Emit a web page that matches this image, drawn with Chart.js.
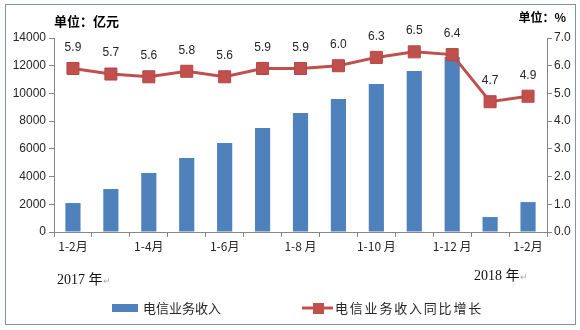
<!DOCTYPE html>
<html>
<head>
<meta charset="utf-8">
<script src="https://cdn.jsdelivr.net/npm/chart.js@4/dist/chart.umd.min.js"></script>
<style>
  html, body { margin: 0; padding: 0; background: #fff; }
  #wrap { width: 580px; height: 330px; position: relative; }
</style>
</head>
<body>
<div id="wrap"><canvas id="c" width="580" height="330"></canvas></div>
<script>
// Monthly cumulative telecom revenue (亿元) and year-on-year growth (%)
const categories = ['1-2月', '1-3月', '1-4月', '1-5月', '1-6月', '1-7月', '1-8 月',
                    '1-9月', '1-10 月', '1-11月', '1-12 月', '1月', '1-2月'];
const revenue = [2090, 3100, 4260, 5340, 6420, 7500, 8590, 9600, 10680, 11620, 12620, 1080, 2160];
const growth = [5.9, 5.7, 5.6, 5.8, 5.6, 5.9, 5.9, 6.0, 6.3, 6.5, 6.4, 4.7, 4.9];
const leftTicks = [0, 2000, 4000, 6000, 8000, 10000, 12000, 14000];
const rightTicks = [0, 1, 2, 3, 4, 5, 6, 7];
const yearLabels = ['2017 年', '2018 年'];
const seriesNames = ['电信业务收入', '电信业务收入同比增长'];
const unitLeft = '单位：亿元';
const unitRight = '单位：%';

const BLUE = '#4F81BD';
const RED = '#C0504D';
const AXIS = '#868686';
const TXT = '#262626';
const SANS = '"Liberation Sans", "Noto Sans CJK SC", sans-serif';
const CJK = '"Noto Sans CJK SC", "Liberation Sans", sans-serif';

// frame, unit titles, year notes, value labels and legend
const decor = {
  id: 'decor',
  afterDatasetsDraw(chart) {
    const ctx = chart.ctx;
    const meta = chart.getDatasetMeta(0);
    ctx.save();
    ctx.fillStyle = TXT;
    ctx.font = '12px ' + SANS;
    ctx.textAlign = 'center';
    ctx.textBaseline = 'middle';
    meta.data.forEach((pt, i) => {
      ctx.fillText(growth[i].toFixed(1), pt.x, pt.y - 21);
    });
    ctx.restore();
  },
  afterDraw(chart) {
    const ctx = chart.ctx;
    ctx.save();
    // outer frame
    ctx.strokeStyle = '#7F93A9';
    ctx.lineWidth = 1;
    ctx.strokeRect(5.5, 4.5, 570, 320);

    // unit titles
    ctx.fillStyle = '#000';
    ctx.font = 'bold 13px ' + CJK;
    ctx.textBaseline = 'middle';
    ctx.textAlign = 'left';
    ctx.fillText(unitLeft, 54, 21);
    ctx.font = 'bold 12px ' + CJK;
    ctx.textAlign = 'right';
    ctx.fillText(unitRight, 566, 17);

    // year notes
    ctx.textAlign = 'left';
    ctx.font = '14px "Liberation Serif", "Noto Sans CJK SC", serif';
    ctx.fillStyle = '#111';
    let w = ctx.measureText(yearLabels[0]).width;
    ctx.fillText(yearLabels[0], 57, 280);
    ctx.fillStyle = '#aaa';
    ctx.font = '9px ' + SANS;
    ctx.fillText('↵', 57 + w + 1, 282);
    ctx.font = '14px "Liberation Serif", "Noto Sans CJK SC", serif';
    ctx.fillStyle = '#111';
    w = ctx.measureText(yearLabels[1]).width;
    ctx.fillText(yearLabels[1], 474, 276);
    ctx.fillStyle = '#aaa';
    ctx.font = '9px ' + SANS;
    ctx.fillText('↵', 474 + w + 1, 278);

    // legend
    ctx.fillStyle = BLUE;
    ctx.fillRect(112, 304, 26, 8);
    ctx.fillStyle = TXT;
    ctx.font = '13px ' + CJK;
    ctx.fillText(seriesNames[0], 143, 308);

    ctx.strokeStyle = RED;
    ctx.lineWidth = 3;
    ctx.beginPath();
    ctx.moveTo(302, 308);
    ctx.lineTo(333, 308);
    ctx.stroke();
    ctx.fillStyle = RED;
    ctx.fillRect(313, 303, 11, 11);
    ctx.fillStyle = TXT;
    ctx.font = '13px ' + CJK;
    if ('letterSpacing' in ctx) ctx.letterSpacing = '1.8px';
    ctx.fillText(seriesNames[1], 335, 308);
    ctx.restore();
  }
};

new Chart(document.getElementById('c'), {
  data: {
    labels: categories,
    datasets: [
      {
        type: 'line',
        label: seriesNames[1],
        data: growth,
        yAxisID: 'y1',
        borderColor: RED,
        borderWidth: 3,
        backgroundColor: RED,
        pointStyle: 'rect',
        pointRadius: 8.5,
        pointBackgroundColor: RED,
        pointBorderColor: '#B84542',
        pointBorderWidth: 1,
        tension: 0,
        order: 0
      },
      {
        type: 'bar',
        label: seriesNames[0],
        data: revenue,
        yAxisID: 'y',
        backgroundColor: BLUE,
        categoryPercentage: 1,
        barPercentage: 0.4,
        order: 1
      }
    ]
  },
  options: {
    responsive: false,
    animation: false,
    devicePixelRatio: 1,
    layout: { padding: { left: 0, right: 0, top: 38, bottom: 78 } },
    plugins: {
      legend: { display: false },
      tooltip: { enabled: false }
    },
    scales: {
      x: {
        offset: true,
        grid: { offset: true, drawOnChartArea: false, tickLength: 5, color: AXIS },
        border: { color: AXIS },
        ticks: {
          autoSkip: false,
          maxRotation: 0,
          padding: 2,
          color: TXT,
          font: { size: 12, family: CJK },
          callback: (v, i) => (i % 2 === 0 ? categories[i] : '')
        },
        afterFit: (s) => { s.height = 20; }
      },
      y: {
        position: 'left',
        min: 0, max: 14000,
        afterBuildTicks: (s) => { s.ticks = leftTicks.map(v => ({ value: v })); },
        grid: { drawOnChartArea: false, tickLength: 5, color: AXIS },
        border: { color: AXIS },
        ticks: { color: TXT, padding: 3, font: { size: 12, family: SANS },
                 callback: (v) => String(v) },
        afterFit: (s) => { s.width = 54; }
      },
      y1: {
        position: 'right',
        min: 0, max: 7,
        afterBuildTicks: (s) => { s.ticks = rightTicks.map(v => ({ value: v })); },
        grid: { drawOnChartArea: false, tickLength: 5, color: AXIS },
        border: { color: AXIS },
        ticks: { color: TXT, padding: 2, font: { size: 12, family: SANS },
                 callback: (v) => Number(v).toFixed(1) },
        afterFit: (s) => { s.width = 33; }
      }
    }
  },
  plugins: [decor]
});
</script>
</body>
</html>
